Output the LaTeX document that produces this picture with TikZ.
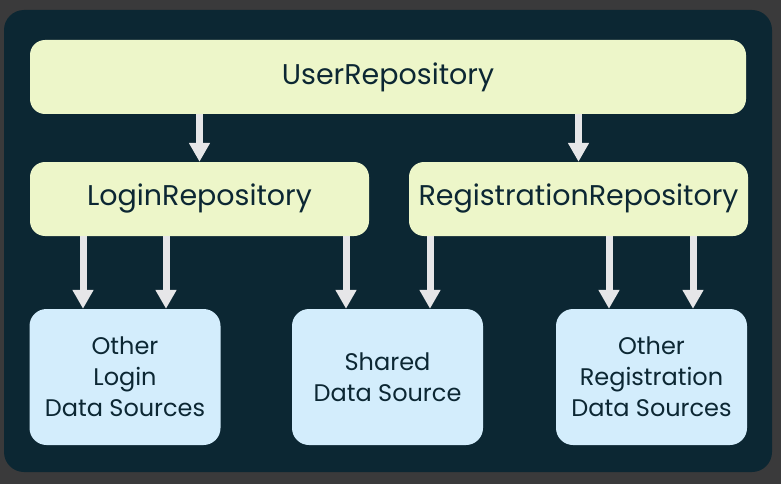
\documentclass[tikz,border=0pt]{standalone}
\usepackage{fontspec}
\setmainfont{Poppins}
\usetikzlibrary{arrows.meta}
\definecolor{bggray}{HTML}{3A3A3B}
\definecolor{panel}{HTML}{0C2733}
\definecolor{repofill}{HTML}{EDF6C9}
\definecolor{srcfill}{HTML}{D3EDFC}
\definecolor{arrowgray}{HTML}{E6E6E8}
\definecolor{inktext}{HTML}{0C2733}
\tikzset{
  repo/.style={fill=repofill, rounded corners=15, minimum height=74, text=inktext, font=\fontsize{28.5}{32}\selectfont, inner sep=0},
  src/.style={fill=srcfill, rounded corners=17, minimum width=191, minimum height=136, text=inktext, align=center, font=\fontsize{24}{31}\selectfont, inner sep=0},
  arr/.style={arrowgray, line width=7, -{Triangle[width=20,length=19]}}
}
\begin{document}
\begin{tikzpicture}[x=1pt,y=-1pt]
\useasboundingbox[fill=bggray] (0,0) rectangle (781,484);
\fill[panel, rounded corners=20] (4,10) rectangle (772,472);
% repositories
\node[repo, minimum width=716] (user) at (388,77) {UserRepository};
\node[repo, minimum width=339] (login) at (199.5,199) {LoginRepository};
\node[repo, minimum width=339] (reg) at (578.5,199) {RegistrationRepository};
% data sources
\node[src] (olds) at (125,377) {Other\\Login\\Data Sources};
\node[src] (shared) at (387.5,377) {Shared\\Data Source};
\node[src] (ords) at (651.5,377) {Other\\Registration\\Data Sources};
% arrows
\draw[arr] (user.south -| login.north) -- (login.north);
\draw[arr] (user.south -| reg.north) -- (reg.north);
\foreach \dx in {-116.5,-33.5,146.5} {
 \draw[arr] ([xshift=\dx]login.south) -- ([xshift=\dx]login.south |- olds.north);
}
\foreach \dx in {-148.5,30.5,114.5} {
 \draw[arr] ([xshift=\dx]reg.south) -- ([xshift=\dx]reg.south |- ords.north);
}
\end{tikzpicture}
\end{document}
